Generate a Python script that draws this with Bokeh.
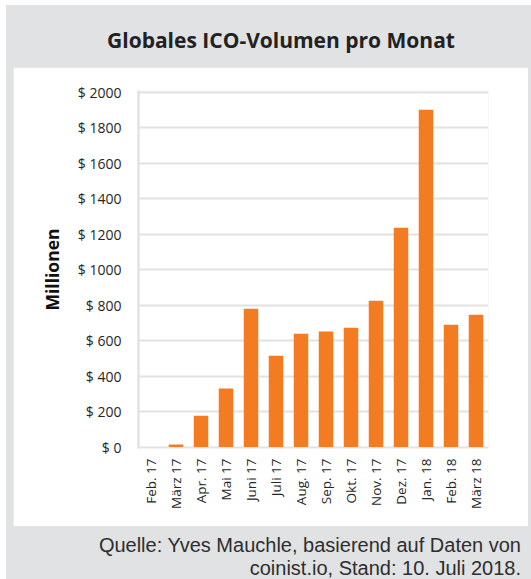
import math
from bokeh.plotting import figure
from bokeh.layouts import column
from bokeh.models import Div, PrintfTickFormatter, FixedTicker, Range1d, ColumnDataSource
from bokeh.embed import file_html
from bokeh.resources import INLINE

# ---- data ----
months = ["Feb. 17", "März 17", "Apr. 17", "Mai 17", "Juni 17", "Juli 17", "Aug. 17",
          "Sep. 17", "Okt. 17", "Nov. 17", "Dez. 17", "Jan. 18", "Feb. 18", "März 18"]
volume = [0, 14, 177, 330, 780, 515, 639, 651, 673, 825, 1237, 1901, 690, 746]
y_ticks = [0, 200, 400, 600, 800, 1000, 1200, 1400, 1600, 1800, 2000]
title_text = "Globales ICO-Volumen pro Monat"
y_label = "Millionen"
source_lines = ["Quelle: Yves Mauchle, basierend auf Daten von",
                "coinist.io, Stand: 10. Juli 2018."]

GREY_BG = "#e1e2e4"
GRID = "#e2e2e2"
ORANGE = "#f37b21"
FONT = "Open Sans"

p = figure(width=515, height=459, x_range=months, y_range=Range1d(-8, 2010),
           output_backend="svg", toolbar_location=None,
           min_border_left=125, min_border_right=40,
           min_border_top=23, min_border_bottom=78, margin=(0, 0, 0, 7))
p.border_fill_color = "white"
p.background_fill_color = "white"
p.outline_line_color = None

src = ColumnDataSource(dict(month=months, volume=volume))
p.vbar(x="month", top="volume", width=0.58, source=src, fill_color=ORANGE, line_color=None)

# y axis
p.yaxis.ticker = FixedTicker(ticks=y_ticks)
p.yaxis.formatter = PrintfTickFormatter(format="$ %d")
p.yaxis.axis_line_color = GRID
p.yaxis.axis_line_width = 2.5
p.yaxis.major_tick_line_color = None
p.yaxis.minor_tick_line_color = None
p.yaxis.major_tick_out = 0
p.yaxis.major_label_standoff = 17
p.yaxis.major_label_text_font = FONT
p.yaxis.major_label_text_font_size = "14px"
p.yaxis.major_label_text_color = "#262626"
p.yaxis.axis_label = y_label
p.yaxis.axis_label_text_font = FONT
p.yaxis.axis_label_text_font_style = "bold"
p.yaxis.axis_label_text_font_size = "17.5px"
p.yaxis.axis_label_text_color = "#111111"
p.yaxis.axis_label_standoff = 11

# x axis
p.xaxis.axis_line_color = None
p.xaxis.major_tick_line_color = None
p.xaxis.major_tick_out = 0
p.xaxis.major_label_orientation = math.pi / 2
p.xaxis.major_label_standoff = 10
p.xaxis.major_label_text_font = FONT
p.xaxis.major_label_text_font_size = "13.5px"
p.xaxis.major_label_text_color = "#262626"

p.xgrid.grid_line_color = None
p.ygrid.ticker = FixedTicker(ticks=y_ticks)
p.ygrid.grid_line_color = GRID
p.ygrid.grid_line_width = 2.2

title_div = Div(text=title_text, width=525, height=62, margin=0,
                styles={"font-family": FONT, "font-weight": "bold", "font-size": "21px",
                        "color": "#222222", "text-align": "center",
                        "line-height": "70px", "padding-left": "25px",
                        "box-sizing": "border-box", "width": "525px"})
source_div = Div(text="<br>".join(source_lines), width=525, height=53, margin=0,
                 styles={"font-family": "Liberation Sans", "font-size": "20px",
                         "color": "#2e2e2e", "text-align": "right", "line-height": "22.5px",
                         "padding-top": "8px", "padding-right": "10px",
                         "box-sizing": "border-box", "width": "525px"})

layout = column(title_div, p, source_div, width=525, height=574, margin=(5, 0, 0, 6),
                styles={"background-color": GREY_BG})

open("out.html", "w").write(file_html(layout, INLINE))
